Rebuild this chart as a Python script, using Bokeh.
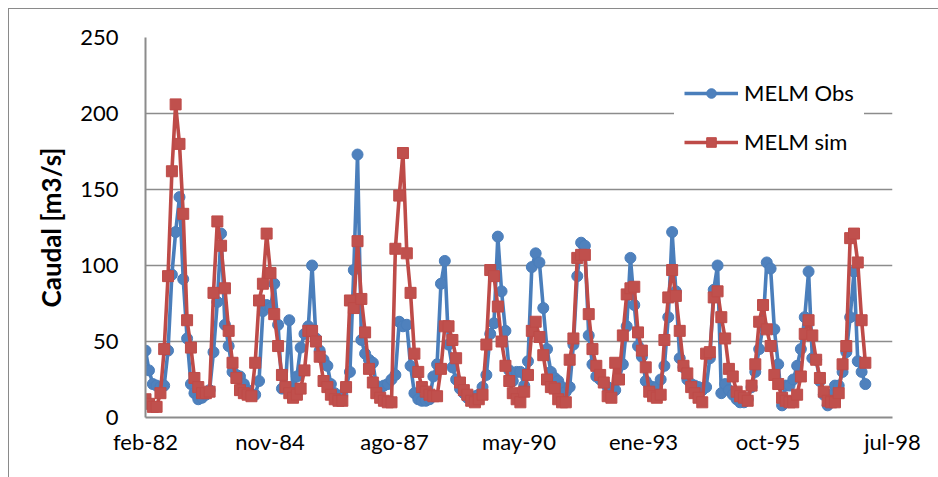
import pandas as pd
from bokeh.plotting import figure
from bokeh.models import Range1d, FixedTicker, Legend, LegendItem
from bokeh.embed import file_html
from bokeh.resources import INLINE

# ---- data (monthly, first value 15-feb-1982) ----
start_date = "1982-02-15"
obs = [44, 31, 22, 21, 20, 21, 44, 94, 122, 145,
       91, 52, 22, 16, 12, 13, 15, 18, 43, 76,
       121, 61, 47, 30, 28, 27, 22, 18, 15, 15,
       24, 70, 74, 72, 88, 61, 19, 20, 64, 16,
       27, 46, 55, 60, 100, 52, 44, 38, 34, 22,
       16, 14, 15, 20, 30, 97, 173, 51, 42, 38,
       36, 21, 19, 21, 22, 25, 28, 63, 60, 61,
       34, 16, 12, 11, 11, 12, 27, 35, 88, 103,
       48, 33, 25, 19, 16, 13, 13, 14, 15, 20,
       28, 55, 62, 119, 83, 57, 31, 24, 30, 30,
       21, 37, 99, 108, 102, 72, 45, 30, 26, 24,
       20, 17, 20, 48, 93, 115, 113, 54, 35, 27,
       25, 23, 20, 17, 18, 25, 35, 60, 105, 74,
       47, 40, 24, 21, 20, 20, 25, 34, 66, 122,
       83, 39, 33, 25, 22, 21, 20, 18, 20, 39,
       84, 100, 16, 22, 18, 15, 12, 10, 10, 12,
       20, 30, 45, 60, 102, 98, 58, 35, 8, 21,
       21, 25, 34, 45, 66, 96, 39, 38, 24, 15,
       8, 15, 21, 21, 30, 43, 66, 96, 37, 30,
       22]
sim = [12, 9, 7, 7, 16, 45, 93, 162, 206, 180,
       134, 64, 46, 26, 20, 16, 16, 17, 82, 129,
       113, 85, 57, 36, 26, 18, 16, 15, 14, 36,
       77, 88, 121, 95, 68, 47, 28, 20, 16, 13,
       15, 19, 31, 57, 57, 50, 40, 24, 20, 15,
       12, 11, 11, 20, 77, 72, 116, 78, 56, 32,
       23, 16, 13, 11, 10, 10, 111, 146, 174, 108,
       82, 42, 30, 20, 17, 15, 14, 14, 32, 60,
       60, 51, 39, 23, 18, 15, 11, 10, 12, 15,
       48, 97, 93, 73, 50, 34, 24, 16, 12, 10,
       17, 28, 57, 63, 53, 41, 25, 20, 19, 12,
       10, 10, 38, 52, 105, 107, 107, 68, 45, 34,
       28, 23, 14, 13, 36, 25, 54, 81, 85, 86,
       56, 44, 33, 17, 14, 13, 15, 51, 79, 97,
       80, 57, 34, 29, 20, 16, 13, 10, 42, 43,
       79, 83, 66, 52, 32, 27, 17, 14, 13, 11,
       21, 35, 63, 74, 58, 47, 28, 22, 13, 11,
       10, 10, 15, 27, 55, 64, 54, 38, 26, 17,
       11, 10, 10, 16, 35, 47, 118, 121, 102, 64,
       36]
tick_days = [0, 1000, 2000, 3000, 4000, 5000, 6000]
tick_labels = ["feb-82", "nov-84", "ago-87", "may-90", "ene-93", "oct-95", "jul-98"]
y_ticks = [0, 50, 100, 150, 200, 250]

dates = pd.date_range("1982-02-01", periods=len(obs), freq="MS") + pd.Timedelta(days=14)
days = list((dates - pd.Timestamp(start_date)).days)

FONT = "Lato"
BLUE_L, BLUE_M = "#4A7EBB", "#4F81BD"
RED_L, RED_M = "#BE4B48", "#C0504D"
GRID = "#8C8C8C"

p = figure(width=930, height=469, output_backend="svg", toolbar_location=None,
           x_range=Range1d(0, 6000), y_range=Range1d(0, 250),
           min_border_left=136, min_border_top=28, min_border_right=47,
           min_border_bottom=61, background_fill_color="white",
           border_fill_color="white", outline_line_color=None)
p.margin = (8, 0, 0, 8)
p.styles = {"border-top": "1px solid #8a8a8a", "border-left": "1px solid #8a8a8a"}

# axes
p.xaxis.ticker = FixedTicker(ticks=tick_days)
p.xaxis.major_label_overrides = {d: l for d, l in zip(tick_days, tick_labels)}
p.yaxis.ticker = FixedTicker(ticks=y_ticks)
for ax in (p.xaxis, p.yaxis):
    ax.major_tick_line_color = None
    ax.minor_tick_line_color = None
    ax.major_tick_out = 0
    ax.major_tick_in = 0
    ax.axis_line_color = GRID
    ax.axis_line_width = 2
    ax.major_label_text_font = FONT
    ax.major_label_text_font_size = "22px"
    ax.major_label_text_color = "black"
p.xaxis.major_label_standoff = 10
p.yaxis.major_label_standoff = 27
p.yaxis.axis_label = "Caudal [m3/s]"
p.yaxis.axis_label_text_font = FONT
p.yaxis.axis_label_text_font_style = "bold"
p.yaxis.axis_label_text_font_size = "26px"
p.yaxis.axis_label_text_color = "black"
p.yaxis.axis_label_standoff = 10

p.xgrid.grid_line_color = None
p.ygrid.ticker = FixedTicker(ticks=y_ticks)
p.ygrid.grid_line_color = GRID
p.ygrid.grid_line_width = 1.5

# series
l1 = p.line(days, obs, line_color=BLUE_L, line_width=3.6)
s1 = p.scatter(days, obs, marker="circle", size=11, fill_color=BLUE_M, line_color=BLUE_L)
l2 = p.line(days, sim, line_color=RED_L, line_width=3.6)
s2 = p.scatter(days, sim, marker="square", size=11, fill_color=RED_M, line_color=RED_L)

legend = Legend(items=[LegendItem(label="MELM Obs", renderers=[l1, s1]),
                       LegendItem(label="MELM sim", renderers=[l2, s2])],
                location=(529, 252), orientation="vertical",
                glyph_width=54, glyph_height=24, label_height=24, spacing=22,
                padding=10, margin=0, label_standoff=6,
                label_text_font=FONT, label_text_font_size="22px",
                label_text_color="black",
                background_fill_color="white", background_fill_alpha=1.0,
                border_line_alpha=0)
p.add_layout(legend)

open("out.html", "w").write(file_html(p, INLINE))
